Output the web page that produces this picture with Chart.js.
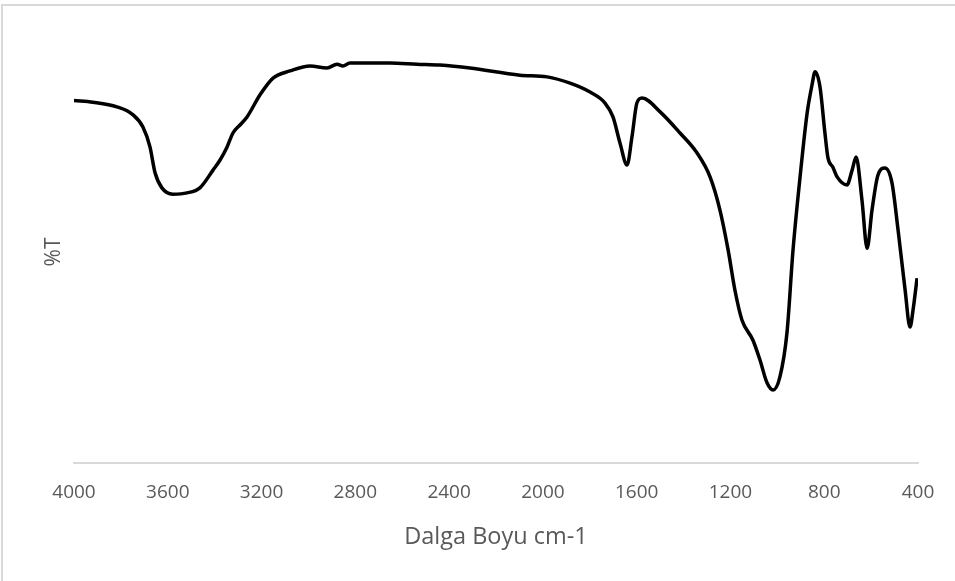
<!DOCTYPE html>
<html>
<head>
<meta charset="utf-8">
<script src="https://cdn.jsdelivr.net/npm/chart.js@4/dist/chart.umd.min.js"></script>
<style>
  html, body { margin: 0; padding: 0; background: #fff; overflow: hidden; }
  #frame {
    position: absolute; left: 1px; top: 4px; width: 980px; height: 600px;
    border-left: 2px solid #d9d9d9; border-top: 2px solid #d9d9d9;
  }
  #spectrum { position: absolute; left: 0; top: 0; }
</style>
</head>
<body>
<div id="frame"></div>
<canvas id="spectrum" width="955" height="581"></canvas>
<script>
// IR spectrum, wavenumber (cm-1) vs transmittance
const wavenumber = [
  4000, 3919, 3817, 3748, 3706, 3676, 3654, 3625, 3578, 3518,
  3463, 3407, 3377, 3347, 3322, 3292, 3262, 3207, 3151, 3079,
  2993, 2921, 2878, 2853, 2823, 2652, 2537, 2439, 2311, 2098,
  1982, 1884, 1799, 1735, 1701, 1671, 1641, 1620, 1599, 1577,
  1500, 1415, 1343, 1287, 1245, 1210, 1181, 1151, 1104, 1074,
  1044, 1018, 989, 959, 933, 903, 873, 852, 839, 818,
  797, 784, 763, 745, 703, 681, 664, 639, 617, 596,
  571, 541, 511, 485, 455, 434, 421, 404
];
const transmittance = [
  85.9, 85.5, 84.4, 82.5, 79.6, 74.9, 68.7, 65.2, 63.7, 64.0,
  65.2, 69.4, 71.8, 74.9, 78.2, 80.1, 82.0, 87.2, 91.2, 92.9,
  94.1, 93.6, 94.5, 94.1, 94.8, 94.8, 94.5, 94.3, 93.6, 91.9,
  91.5, 90.0, 87.9, 85.3, 82.0, 75.8, 70.6, 77.3, 85.3, 86.5,
  83.2, 78.2, 73.5, 67.8, 60.0, 50.5, 41.0, 33.9, 29.1, 24.4,
  19.0, 17.3, 20.4, 30.8, 50.5, 67.8, 82.9, 89.6, 92.7, 89.1,
  78.2, 72.3, 70.1, 67.8, 65.9, 69.4, 72.5, 62.3, 50.9, 60.0,
  68.2, 69.9, 66.4, 55.2, 41.0, 32.2, 36.3, 43.8
];
const xTicks = [4000, 3600, 3200, 2800, 2400, 2000, 1600, 1200, 800, 400];

const points = wavenumber.map((w, i) => ({ x: w, y: transmittance[i] }));
const textColor = '#595959';
const fontFamily = '"Open Sans", "Liberation Sans", sans-serif';

new Chart(document.getElementById('spectrum'), {
  type: 'line',
  data: {
    datasets: [{
      data: points,
      borderColor: '#000',
      borderWidth: 3.5,
      pointRadius: 0,
      cubicInterpolationMode: 'monotone',
      fill: false
    }]
  },
  options: {
    responsive: false,
    animation: false,
    layout: { padding: { top: 41, right: 37, bottom: 0, left: 0 } },
    plugins: { legend: { display: false }, tooltip: { enabled: false } },
    scales: {
      x: {
        type: 'linear',
        reverse: true,
        min: 400,
        max: 4000,
        afterBuildTicks: (axis) => { axis.ticks = xTicks.map(v => ({ value: v })); },
        afterFit: (axis) => { axis.height = 118; },
        grid: { display: false, drawTicks: false },
        border: { display: true, color: '#d9d9d9', width: 2 },
        ticks: {
          color: textColor,
          padding: 18,
          maxRotation: 0,
          font: { family: fontFamily, size: 19 },
          callback: (v) => String(v)
        },
        title: {
          display: true,
          text: 'Dalga Boyu cm-1',
          color: textColor,
          font: { family: fontFamily, size: 23.5 },
          padding: { top: 0, bottom: 30 }
        }
      },
      y: {
        min: 0,
        max: 100,
        afterFit: (axis) => { axis.width = 74; },
        grid: { display: false, drawTicks: false },
        border: { display: false },
        ticks: { display: false },
        title: {
          display: true,
          text: '%T',
          color: textColor,
          font: { family: fontFamily, size: 21 },
          padding: { top: 41, bottom: 0 }
        }
      }
    }
  }
});
</script>
</body>
</html>
